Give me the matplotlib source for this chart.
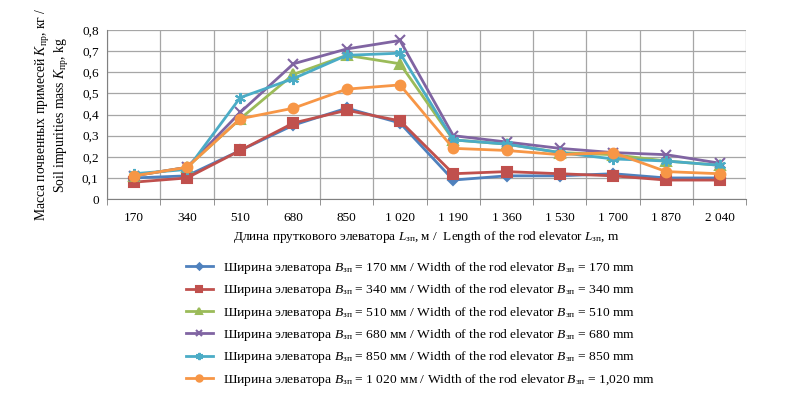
import numpy as np
import matplotlib
matplotlib.use("Agg")
import matplotlib.pyplot as plt
from matplotlib.ticker import FixedLocator, FuncFormatter

plt.rcParams['font.family'] = ['Liberation Serif', 'DejaVu Serif']
plt.rcParams['mathtext.fontset'] = 'custom'
plt.rcParams['mathtext.rm'] = 'Liberation Serif'
plt.rcParams['mathtext.it'] = 'Liberation Serif:italic'

# ---------------------------------------------------------------- data
lengths = ["170", "340", "510", "680", "850", "1 020",
           "1 190", "1 360", "1 530", "1 700", "1 870", "2 040"]

w170 = [0.10, 0.11, 0.23, 0.35, 0.43, 0.36, 0.09, 0.11, 0.11, 0.12, 0.10, 0.10]
w340 = [0.08, 0.10, 0.23, 0.36, 0.42, 0.37, 0.12, 0.13, 0.12, 0.11, 0.09, 0.09]
w510 = [0.11, 0.15, 0.38, 0.59, 0.68, 0.64, 0.28, 0.26, 0.22, 0.21, 0.18, 0.16]
w680 = [0.11, 0.15, 0.41, 0.64, 0.71, 0.75, 0.30, 0.27, 0.24, 0.22, 0.21, 0.17]
w850 = [0.12, 0.14, 0.48, 0.57, 0.68, 0.69, 0.28, 0.26, 0.22, 0.19, 0.18, 0.16]
w1020 = [0.11, 0.15, 0.38, 0.43, 0.52, 0.54, 0.24, 0.23, 0.21, 0.22, 0.13, 0.12]

widths = ["170", "340", "510", "680", "850", "1 020"]
widths_en = ["170", "340", "510", "680", "850", "1,020"]
series = [w170, w340, w510, w680, w850, w1020]

colors = ["#4F81BD", "#C0504D", "#9BBB59", "#8064A2", "#4BACC6", "#F79646"]
markers = ["D", "s", "^", "x", (6, 2, 0), "o"]
msizes = [5, 7, 7, 7, 8, 7]

B = r"$B_{\mathrm{зп}}$"
L = r"$L_{\mathrm{зп}}$"
K = r"$K_{\mathrm{пр}}$"

# ---------------------------------------------------------------- figure
fig = plt.figure(figsize=(7.93, 3.99), dpi=100)
ax = fig.add_axes([0.135, 0.501, 0.806, 0.424])

x = np.arange(len(lengths))
for vals, c, m, ms, w, we in zip(series, colors, markers, msizes, widths, widths_en):
    lab = f"Ширина элеватора {B} = {w} мм / Width of the rod elevator {B} = {we} mm"
    ax.plot(x, vals, color=c, lw=2.0, marker=m, markersize=ms,
            markeredgecolor=c, markerfacecolor=c, markeredgewidth=1.5, label=lab)

ax.set_xlim(-0.5, len(lengths) - 0.5)
ax.set_ylim(0, 0.8)
ax.set_xticks(x)
ax.set_xticklabels(lengths)
ax.xaxis.set_minor_locator(FixedLocator(np.arange(-0.5, len(lengths), 1.0)))
ax.tick_params(axis='x', which='major', length=0, pad=9, labelsize=9.5)
ax.tick_params(axis='x', which='minor', length=4, color='#808080')
ax.set_yticks(np.arange(0, 0.81, 0.1))
ax.yaxis.set_major_formatter(FuncFormatter(lambda v, p: f"{v:.1f}".replace(".", ",") if v > 0 else "0"))
ax.tick_params(axis='y', length=0, pad=6, labelsize=9.5)

ax.grid(True, axis='y', which='major', color='#A6A6A6', lw=0.9)
ax.grid(True, axis='x', which='minor', color='#A6A6A6', lw=0.9)
ax.set_axisbelow(True)
for s in ['top', 'right']:
    ax.spines[s].set_visible(False)
for s in ['left', 'bottom']:
    ax.spines[s].set_color('#808080')

ax.set_xlabel(f"Длина пруткового элеватора {L}, м /  Length of the rod elevator {L}, m",
              fontsize=9.5, labelpad=4)
ax.set_ylabel(f"Масса почвенных примесей {K}, кг /\nSoil impurities mass {K}, kg",
              fontsize=9.8, labelpad=8, linespacing=1.05)

fig.legend(loc='upper left', bbox_to_anchor=(0.234, 0.348), frameon=False,
           fontsize=9.7, handlelength=2.0, handletextpad=0.75, markerscale=0.65,
           labelspacing=0.47, borderpad=0, borderaxespad=0)

fig.savefig("out.png", dpi=100)
